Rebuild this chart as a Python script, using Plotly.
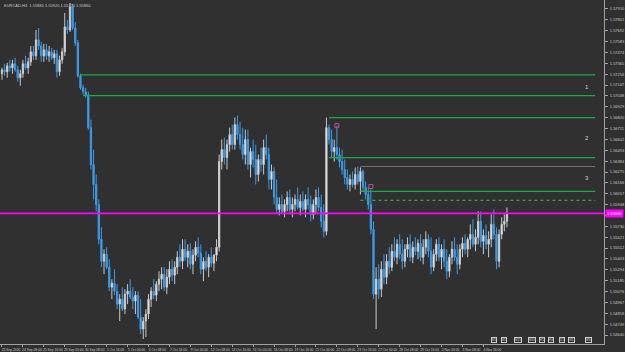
import plotly.graph_objects as go

title_text = "EURCAD,H4  1.55880 1.55920 1.55720 1.55860"

close = [1.5730,1.5728,1.5734,1.5732,1.5736,1.5730,1.5722,1.5726,1.5736,1.5732,
         1.5738,1.5748,1.5744,1.5760,1.5754,1.5744,1.5750,1.5744,1.5748,1.5742,
         1.5746,1.5728,1.5740,1.5748,1.5773,1.5770,1.5793,1.5772,1.5757,1.5724,
         1.5712,1.5708,1.5705,1.5672,1.5635,1.5615,1.5595,1.5560,1.5538,1.5545,
         1.5532,1.5512,1.5516,1.5508,1.5495,1.5500,1.5490,1.5505,1.5508,1.5502,
         1.5498,1.5504,1.5482,1.5470,1.5478,1.5485,1.5500,1.5508,1.5504,1.5515,
         1.5520,1.5525,1.5512,1.5522,1.5530,1.5524,1.5532,1.5542,1.5538,1.5550,
         1.5542,1.5548,1.5535,1.5544,1.5552,1.5546,1.5530,1.5538,1.5532,1.5542,
         1.5536,1.5544,1.5552,1.5638,1.5650,1.5642,1.5655,1.5665,1.5655,1.5675,
         1.5665,1.5655,1.5645,1.5660,1.5635,1.5648,1.5640,1.5625,1.5640,1.5635,
         1.5652,1.5645,1.5620,1.5628,1.5602,1.5590,1.5595,1.5588,1.5595,1.5602,
         1.5590,1.5595,1.5600,1.5592,1.5598,1.5590,1.5600,1.5595,1.5585,1.5595,
         1.5602,1.5592,1.5578,1.5568,1.5672,1.5660,1.5648,1.5652,1.5645,1.5638,
         1.5630,1.5622,1.5615,1.5620,1.5615,1.5625,1.5618,1.5628,1.5612,1.5605,
         1.5595,1.5570,1.5505,1.5520,1.5510,1.5530,1.5522,1.5538,1.5532,1.5548,
         1.5542,1.5555,1.5545,1.5538,1.5550,1.5555,1.5542,1.5552,1.5548,1.5556,
         1.5542,1.5552,1.5560,1.5548,1.5532,1.5545,1.5555,1.5542,1.5550,1.5538,
         1.5528,1.5542,1.5550,1.5542,1.5535,1.5550,1.5556,1.5550,1.5560,1.5565,
         1.5555,1.5562,1.5578,1.5558,1.5564,1.5555,1.5560,1.5575,1.5565,1.5538,
         1.5565,1.5575,1.5578,1.5586]

high = [1.5732,1.5736,1.5737,1.5740,1.5740,1.5742,1.5734,1.5730,1.5740,1.5744,
        1.5742,1.5754,1.5754,1.5770,1.5772,1.5758,1.5756,1.5756,1.5754,1.5752,
        1.5750,1.5750,1.5744,1.5752,1.5787,1.5780,1.5797,1.5796,1.5778,1.5760,
        1.5726,1.5715,1.5712,1.5708,1.5680,1.5650,1.5625,1.5600,1.5572,1.5550,
        1.5552,1.5540,1.5520,1.5530,1.5515,1.5505,1.5512,1.5510,1.5515,1.5520,
        1.5512,1.5508,1.5508,1.5500,1.5482,1.5490,1.5505,1.5512,1.5520,1.5518,
        1.5528,1.5532,1.5532,1.5530,1.5538,1.5540,1.5538,1.5548,1.5555,1.5560,
        1.5560,1.5555,1.5556,1.5550,1.5558,1.5562,1.5555,1.5542,1.5548,1.5545,
        1.5552,1.5545,1.5560,1.5645,1.5660,1.5662,1.5660,1.5672,1.5675,1.5682,
        1.5684,1.5678,1.5672,1.5670,1.5670,1.5652,1.5660,1.5655,1.5645,1.5652,
        1.5660,1.5665,1.5652,1.5635,1.5632,1.5620,1.5602,1.5605,1.5600,1.5608,
        1.5610,1.5602,1.5605,1.5612,1.5605,1.5608,1.5605,1.5612,1.5604,1.5600,
        1.5610,1.5612,1.5605,1.5595,1.5682,1.5675,1.5670,1.5660,1.5674,1.5652,
        1.5650,1.5640,1.5630,1.5625,1.5628,1.5632,1.5633,1.5632,1.5630,1.5618,
        1.5612,1.5610,1.5578,1.5532,1.5535,1.5538,1.5545,1.5545,1.5552,1.5555,
        1.5562,1.5560,1.5565,1.5560,1.5555,1.5562,1.5565,1.5558,1.5562,1.5560,
        1.5565,1.5560,1.5568,1.5565,1.5562,1.5550,1.5560,1.5562,1.5555,1.5560,
        1.5550,1.5545,1.5558,1.5562,1.5555,1.5555,1.5562,1.5565,1.5562,1.5575,
        1.5580,1.5570,1.5588,1.5588,1.5570,1.5575,1.5568,1.5585,1.5590,1.5572,
        1.5570,1.5582,1.5585,1.5592]

low = [1.5720,1.5724,1.5722,1.5728,1.5726,1.5728,1.5718,1.5714,1.5722,1.5730,
       1.5726,1.5734,1.5740,1.5740,1.5750,1.5738,1.5738,1.5740,1.5738,1.5740,
       1.5736,1.5722,1.5724,1.5736,1.5744,1.5766,1.5768,1.5770,1.5754,1.5722,
       1.5710,1.5705,1.5702,1.5670,1.5630,1.5600,1.5588,1.5555,1.5532,1.5525,
       1.5530,1.5508,1.5500,1.5504,1.5490,1.5478,1.5488,1.5485,1.5495,1.5500,
       1.5490,1.5485,1.5480,1.5465,1.5460,1.5462,1.5480,1.5492,1.5500,1.5498,
       1.5508,1.5510,1.5508,1.5505,1.5515,1.5518,1.5515,1.5525,1.5532,1.5530,
       1.5538,1.5532,1.5530,1.5525,1.5538,1.5542,1.5525,1.5518,1.5528,1.5522,
       1.5532,1.5528,1.5538,1.5548,1.5630,1.5635,1.5630,1.5648,1.5650,1.5650,
       1.5660,1.5650,1.5640,1.5635,1.5630,1.5622,1.5632,1.5615,1.5618,1.5628,
       1.5625,1.5640,1.5610,1.5610,1.5595,1.5585,1.5584,1.5586,1.5582,1.5588,
       1.5585,1.5582,1.5588,1.5590,1.5584,1.5588,1.5582,1.5590,1.5578,1.5580,
       1.5585,1.5588,1.5572,1.5562,1.5564,1.5655,1.5642,1.5638,1.5640,1.5632,
       1.5625,1.5615,1.5610,1.5608,1.5612,1.5610,1.5615,1.5605,1.5608,1.5600,
       1.5590,1.5565,1.5500,1.5470,1.5500,1.5502,1.5515,1.5515,1.5525,1.5528,
       1.5538,1.5535,1.5540,1.5530,1.5532,1.5542,1.5538,1.5536,1.5544,1.5540,
       1.5538,1.5535,1.5545,1.5542,1.5525,1.5528,1.5538,1.5538,1.5530,1.5532,
       1.5520,1.5522,1.5535,1.5538,1.5525,1.5530,1.5542,1.5545,1.5542,1.5550,
       1.5552,1.5548,1.5555,1.5552,1.5545,1.5550,1.5542,1.5552,1.5560,1.5530,
       1.5532,1.5560,1.5568,1.5572]

first_open = 1.5726
open_ = [first_open] + close[:-1]
bars = list(range(len(close)))

date_labels = ["23 Sep 2020", "24 Sep 08:00", "25 Sep 16:00", "29 Sep 00:00",
               "30 Sep 08:00", "1 Oct 16:00", "5 Oct 00:00", "6 Oct 08:00",
               "7 Oct 16:00", "9 Oct 00:00", "12 Oct 08:00", "13 Oct 16:00",
               "15 Oct 00:00", "16 Oct 08:00", "19 Oct 16:00", "21 Oct 00:00",
               "22 Oct 08:00", "23 Oct 16:00", "27 Oct 00:00", "28 Oct 08:00",
               "29 Oct 16:00", "2 Nov 00:00", "3 Nov 08:00", "4 Nov 16:00"]
date_bars = [8 * k for k in range(len(date_labels))]

# horizontal levels: price, starting bar
green_levels = [1.5725, 1.5704, 1.5682, 1.5642, 1.5608]
green_starts = [30, 31, 125, 125, 137]
gray_level, gray_start = 1.5633, 137
dotted_level, dotted_start = 1.5599, 137
current_price = 1.5586
level_end = 226.7

zone_labels = ["1", "2", "3"]
zone_prices = [1.5713, 1.5662, 1.5621]
zone_bar = 223.6

marker_bars = [128, 141]
marker_prices = [1.5674, 1.5613]

price_ticks = [round(1.5791 - 0.00109 * k, 5) for k in range(31)]
# the current-price tag covers the tick label beneath it (as in the terminal)
price_text = ["" if abs(v - current_price) < 0.0006 else f"{v:.5f}" for v in price_ticks]

bg = "#303030"
fig = go.Figure()
fig.add_trace(go.Candlestick(
    x=bars, open=open_, high=high, low=low, close=close,
    increasing=dict(line=dict(color="#c8c8c8", width=1), fillcolor="#ffffff"),
    decreasing=dict(line=dict(color="#3c9be8", width=1), fillcolor="#3c9be8"),
    whiskerwidth=0, showlegend=False, hoverinfo="skip"))

fig.add_trace(go.Scatter(x=marker_bars, y=marker_prices, mode="markers",
                         marker=dict(symbol="square-open", size=4, color="#c0508a", line=dict(width=1)),
                         showlegend=False, hoverinfo="skip"))

shapes = []
for p, s in zip(green_levels, green_starts):
    shapes.append(dict(type="line", xref="x", yref="y", x0=s, x1=level_end, y0=p, y1=p,
                       line=dict(color="#1fa84e", width=1.3)))
shapes.append(dict(type="line", xref="x", yref="y", x0=gray_start, x1=level_end, y0=gray_level, y1=gray_level,
                   line=dict(color="#7a6c6c", width=1.2)))
shapes.append(dict(type="line", xref="x", yref="y", x0=dotted_start, x1=level_end, y0=dotted_level, y1=dotted_level,
                   line=dict(color="#3f9a5e", width=1.2, dash="dot")))
shapes.append(dict(type="line", xref="paper", yref="y", x0=0, x1=1, y0=current_price, y1=current_price,
                   line=dict(color="#ff00ff", width=1.6)))

annotations = []
for t, p in zip(zone_labels, zone_prices):
    annotations.append(dict(x=zone_bar, y=p, xref="x", yref="y", text=t, showarrow=False,
                            font=dict(size=6, color="#d0d0d0", family="Liberation Sans")))
annotations.append(dict(x=1.0, y=current_price, xref="paper", yref="y", xanchor="left", yanchor="middle",
                        text=f"{current_price:.5f}", showarrow=False, bgcolor="#ff00ff", borderpad=1,
                        xshift=1, font=dict(size=4, color="#ffffff", family="Liberation Sans")))
annotations.append(dict(x=0.003, y=0.997, xref="paper", yref="paper", xanchor="left", yanchor="top",
                        text=title_text, showarrow=False,
                        font=dict(size=4, color="#c8c8c8", family="Liberation Sans")))

tf_buttons = ["M1", "M5", "M15", "M30", "H1", "H4", "D1", "W1", "MN"]
tf_x = [0.818, 0.835, 0.858, 0.880, 0.897, 0.913, 0.930, 0.946, 0.975]
for t, xp in zip(tf_buttons, tf_x):
    annotations.append(dict(x=xp, y=0.0, xref="paper", yref="paper", xanchor="center", yanchor="bottom",
                            yshift=1, text=t, showarrow=False, bgcolor="#303030", bordercolor="#d0d0d0",
                            borderwidth=1, borderpad=0,
                            font=dict(size=3, color="#d0d0d0", family="Liberation Sans")))

fig.update_layout(
    width=625, height=352,
    margin=dict(l=0, r=19, t=0, b=7),
    paper_bgcolor=bg, plot_bgcolor=bg,
    shapes=shapes, annotations=annotations,
    xaxis=dict(range=[-0.76, 230.1], showgrid=False, zeroline=False, rangeslider=dict(visible=False),
               tickmode="array", tickvals=date_bars, ticktext=date_labels, tickangle=0,
               ticks="outside", ticklen=2, tickcolor="#a0a0a0", ticklabelshift=9, ticklabelstandoff=0,
               showline=True, linecolor="#a0a0a0", linewidth=1,
               tickfont=dict(size=3.3, color="#c8c8c8", family="Liberation Sans")),
    yaxis=dict(range=[1.5455, 1.5800], side="right", showgrid=False, zeroline=False,
               tickmode="array", tickvals=price_ticks, ticktext=price_text,
               ticks="outside", ticklen=3, tickcolor="#a0a0a0", ticklabelstandoff=1,
               showline=True, linecolor="#a0a0a0", linewidth=1,
               tickfont=dict(size=4, color="#c8c8c8", family="Liberation Sans")),
    font=dict(family="Liberation Sans"),
)

fig.write_html("out.html")
